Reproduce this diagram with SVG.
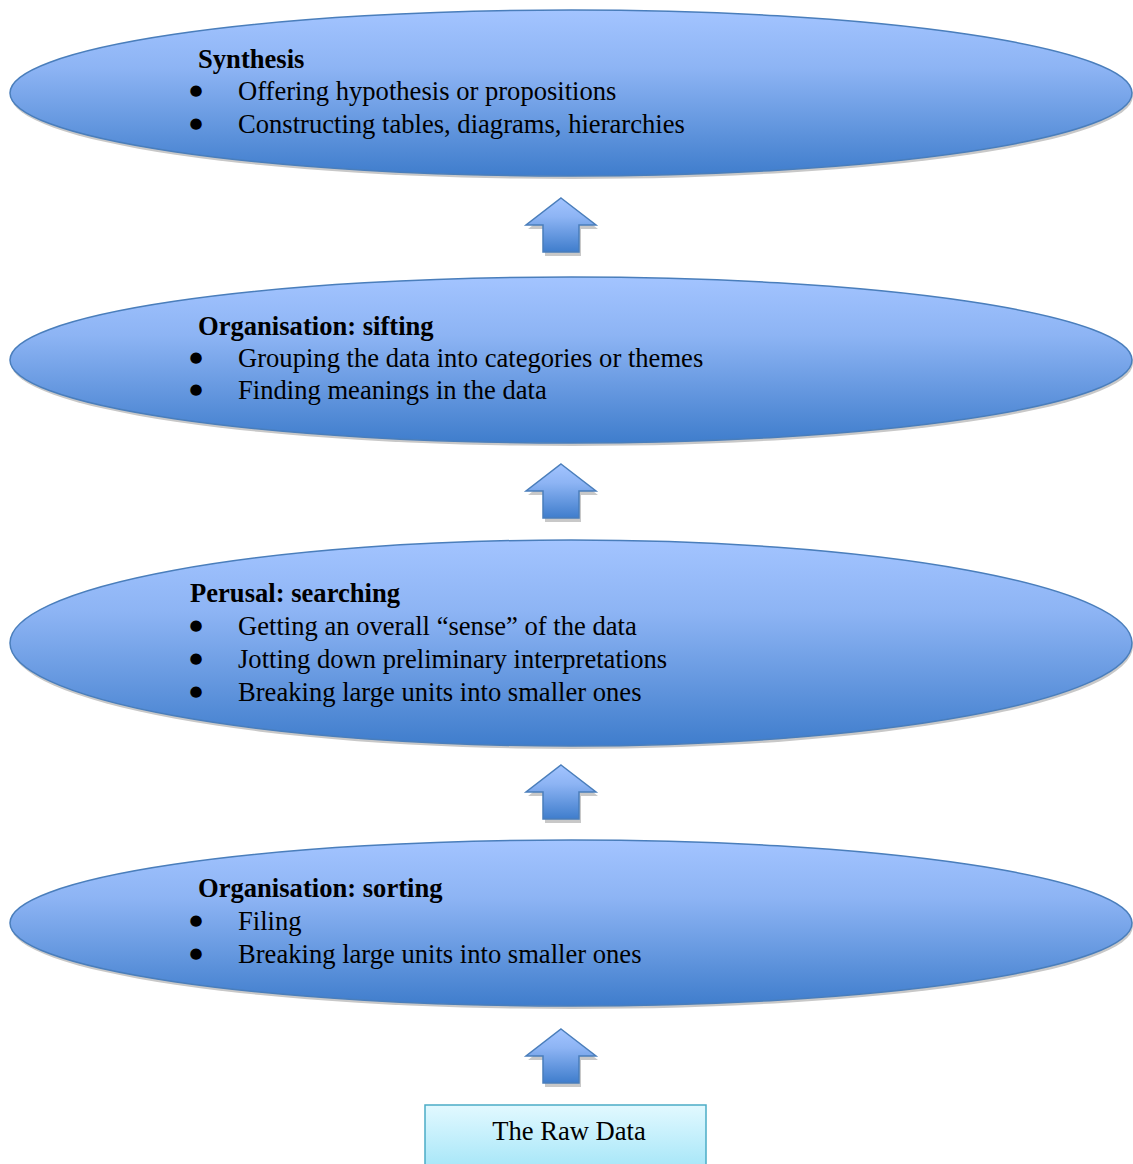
<svg xmlns="http://www.w3.org/2000/svg" width="1133" height="1164" viewBox="0 0 1133 1164">
<defs>
<linearGradient id="blue" x1="0" y1="0" x2="0" y2="1">
<stop offset="0" stop-color="#a3c4ff"/>
<stop offset="0.35" stop-color="#8db4f4"/>
<stop offset="1" stop-color="#3f7dcc"/>
</linearGradient>
<linearGradient id="cyan" x1="0" y1="0" x2="0" y2="1">
<stop offset="0" stop-color="#e2f9ff"/>
<stop offset="1" stop-color="#a6e6f8"/>
</linearGradient>
<path id="arrow" d="M0,0 L35,27 L18,27 L18,54 L-18,54 L-18,27 L-35,27 Z"/>
</defs>
<style>
.shadow{fill:#c8c8c8;}
.ell{fill:url(#blue);stroke:#4a7ebb;stroke-width:1.5;}
.arr{fill:url(#blue);stroke:#4a7ebb;stroke-width:1.5;}
.t{font-family:"Liberation Serif","Times New Roman",serif;font-size:26.6px;fill:#000;}
.h{font-weight:bold;}
.b{font-family:"DejaVu Sans",sans-serif;font-size:15px;fill:#000;text-anchor:middle;}
</style>
<g id="connectors">
<g transform="translate(561,198)"><use href="#arrow" class="shadow" transform="translate(2,4)"/><use href="#arrow" class="arr"/></g>
<g transform="translate(561,464)"><use href="#arrow" class="shadow" transform="translate(2,4)"/><use href="#arrow" class="arr"/></g>
<g transform="translate(561,765)"><use href="#arrow" class="shadow" transform="translate(2,4)"/><use href="#arrow" class="arr"/></g>
<g transform="translate(561,1029)"><use href="#arrow" class="shadow" transform="translate(2,4)"/><use href="#arrow" class="arr"/></g>
</g>
<g id="synthesis">
<ellipse cx="572" cy="96" rx="561" ry="83" class="shadow"/>
<ellipse cx="571" cy="93" rx="561" ry="83" class="ell"/>
<text x="198" y="68" class="t h">Synthesis</text>
<text x="196" y="95" class="b">●</text><text x="238" y="100" class="t">Offering hypothesis or propositions</text>
<text x="196" y="128" class="b">●</text><text x="238" y="133" class="t">Constructing tables, diagrams, hierarchies</text>
</g>
<g id="sifting">
<ellipse cx="572" cy="363" rx="561" ry="83" class="shadow"/>
<ellipse cx="571" cy="360" rx="561" ry="83" class="ell"/>
<text x="198" y="335" class="t h">Organisation: sifting</text>
<text x="196" y="362" class="b">●</text><text x="238" y="367" class="t">Grouping the data into categories or themes</text>
<text x="196" y="394" class="b">●</text><text x="238" y="399" class="t">Finding meanings in the data</text>
</g>
<g id="perusal">
<ellipse cx="572" cy="646" rx="561" ry="103" class="shadow"/>
<ellipse cx="571" cy="643" rx="561" ry="103" class="ell"/>
<text x="190" y="602" class="t h">Perusal: searching</text>
<text x="196" y="630" class="b">●</text><text x="238" y="635" class="t">Getting an overall “sense” of the data</text>
<text x="196" y="663" class="b">●</text><text x="238" y="668" class="t">Jotting down preliminary interpretations</text>
<text x="196" y="696" class="b">●</text><text x="238" y="701" class="t">Breaking large units into smaller ones</text>
</g>
<g id="sorting">
<ellipse cx="572" cy="926" rx="561" ry="83" class="shadow"/>
<ellipse cx="571" cy="923" rx="561" ry="83" class="ell"/>
<text x="198" y="897" class="t h">Organisation: sorting</text>
<text x="196" y="925" class="b">●</text><text x="238" y="930" class="t">Filing</text>
<text x="196" y="958" class="b">●</text><text x="238" y="963" class="t">Breaking large units into smaller ones</text>
</g>
<g id="rawdata">
<rect x="425" y="1105" width="281" height="64" fill="url(#cyan)" stroke="#4bacc6" stroke-width="1.5"/>
<text x="569" y="1140" class="t" text-anchor="middle">The Raw Data</text>
</g>
</svg>
